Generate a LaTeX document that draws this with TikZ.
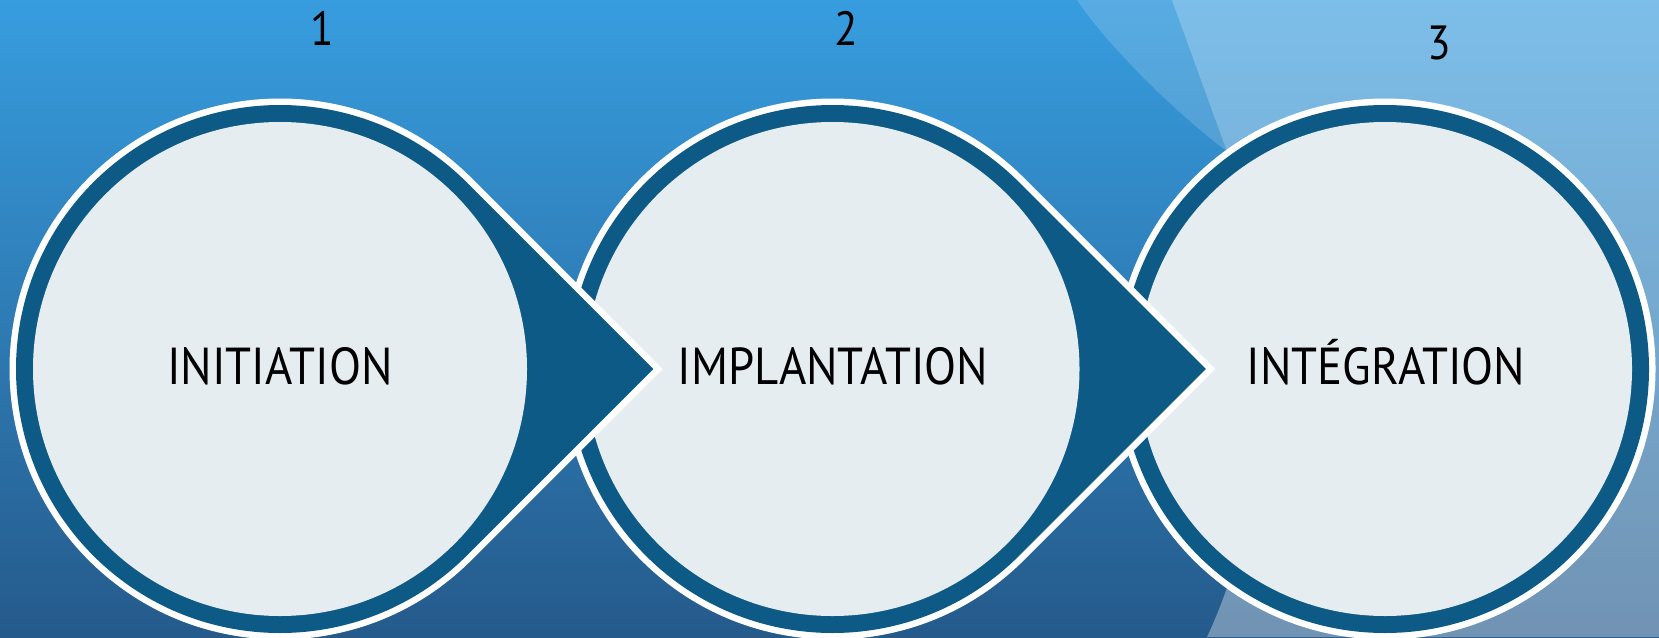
\documentclass[tikz,border=0pt]{standalone}
\usepackage{fontspec}
\setmainfont[FakeStretch=0.9]{PT Sans}
\usetikzlibrary{calc}
\definecolor{ring}{HTML}{0E5A86}
\definecolor{innerc}{HTML}{E6EDF1}
\definecolor{bgtop}{HTML}{379DDF}
\definecolor{bgbot}{HTML}{255A8B}
\tikzset{
  stagelabel/.style={anchor=base, text=black, inner sep=0pt, font=\fontsize{52}{62}\selectfont},
  numlabel/.style={anchor=base, text=black, inner sep=0pt, font=\fontsize{48}{58}\selectfont},
  outline/.style={draw=white, fill=white, line width=13, line join=miter, miter limit=10},
}
\begin{document}
\begin{tikzpicture}[x=1pt,y=-1pt]
\useasboundingbox (0,0) rectangle (1659,637);
\shade[top color=bgtop,bottom color=bgbot] (0,0) rectangle (1659,637);
\begin{scope}
\clip (0,0) rectangle (1659,637);
% mid band
\fill[white,opacity=0.16] (1077,0) .. controls (1100,35) and (1160,100) .. (1225,150)
  -- (1300,250) -- (1250,215) .. controls (1224,143) and (1198,72) .. (1172,0) -- cycle;
% bright region
\fill[white,opacity=0.35] (1172,0) .. controls (1198,72) and (1224,143) .. (1250,215)
  .. controls (1290,325) and (1262,520) .. (1207,637) -- (1659,637) -- (1659,0) -- cycle;
\end{scope}
% stage 3: plain circle
\path[outline] (1385,369) circle[radius=264];
\fill[ring] (1385,369) circle[radius=264];
\fill[innerc] (1385,369) circle[radius=247];
% stages 2 and 1 with pointers, drawn right to left so pointers overlap the next circle
\foreach \cx in {832.5, 280}{
  \path[outline] (\cx+373.35,369) -- ($(\cx,369)+(45:264)$) arc[start angle=45,end angle=315,radius=264] -- cycle;
  \fill[ring] (\cx+373.35,369) -- ($(\cx,369)+(45:264)$) arc[start angle=45,end angle=315,radius=264] -- cycle;
  \fill[innerc] (\cx,369) circle[radius=247];
}
\node[stagelabel] (s1) at (280,384) {INITIATION};
\node[stagelabel] (s2) at (833,384) {IMPLANTATION};
\node[stagelabel] (s3) at (1386,384) {INTÉGRATION};
\node[numlabel] (n1) at (322,45) {1};
\node[numlabel] (n2) at (846,45) {2};
\node[numlabel] (n3) at (1439,59) {3};
\end{tikzpicture}
\end{document}
